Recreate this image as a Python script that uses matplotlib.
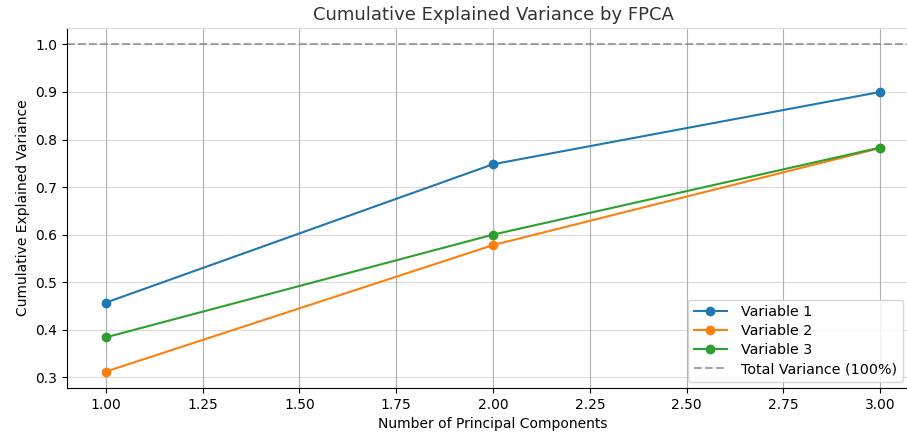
import matplotlib.pyplot as plt
import numpy as np

components = [1, 2, 3]
var1 = [0.457, 0.748, 0.900]
var2 = [0.312, 0.578, 0.782]
var3 = [0.384, 0.600, 0.783]
labels = ["Variable 1", "Variable 2", "Variable 3"]

fig = plt.figure(figsize=(9.07, 4.32), dpi=100)
# the original is cropped on the right, so the axes run past the edge
ax = fig.add_axes([67/907, 44/432, (919-67)/907, (388-28)/432])

for vals, lab in zip([var1, var2, var3], labels):
    ax.plot(components, vals, marker="o", label=lab)
ax.axhline(1.0, color="gray", linestyle="--", alpha=0.7, label="Total Variance (100%)")

ax.set_title("Cumulative Explained Variance by FPCA", fontsize=13, color="#333333")
ax.set_xlabel("Number of Principal Components")
ax.set_ylabel("Cumulative Explained Variance")
ax.xaxis.grid(True, color="#b0b0b0")
ax.yaxis.grid(True, color="#b0b0b0", alpha=0.45)
ax.spines["top"].set_color("#dddddd")

ax.legend(loc="lower left", bbox_to_anchor=(688/907, 50/432),
          bbox_transform=fig.transFigure, borderaxespad=0, fontsize=10.3,
          labelspacing=0.35, handlelength=2.3, handletextpad=1.0)

fig.savefig("out.png", dpi=100)
